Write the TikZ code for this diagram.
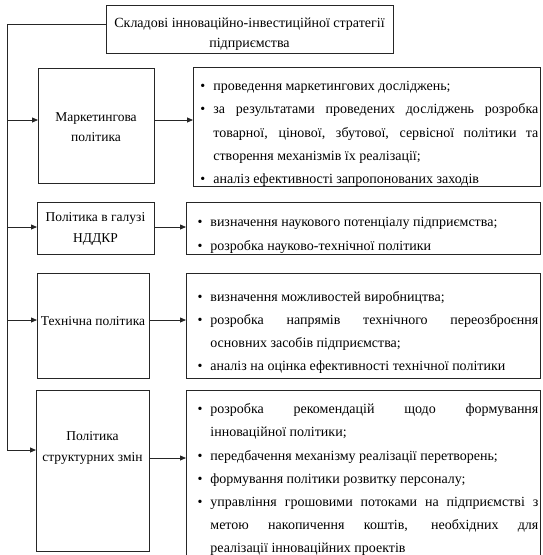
\documentclass[tikz,border=0pt]{standalone}
\usepackage{fontspec}
\setmainfont{Liberation Serif}
\usetikzlibrary{arrows.meta}
\tikzset{
  box/.style={draw=black!85, line width=0.8pt, anchor=north west, inner sep=0pt},
  ltext/.style={align=center, inner sep=0pt, font=\fontsize{13.5}{20.5}\selectfont},
  rbox/.style={box, align=justify, font=\fontsize{14}{23.2}\selectfont, inner xsep=2pt},
  arr/.style={line width=0.8pt, draw=black!85, -{Triangle[length=6pt,width=5pt]}},
  spine/.style={line width=1pt, draw=black!85}
}
\newcommand{\bitm}[1]{\par\noindent\llap{\textbullet\hspace{8pt}}#1}
\begin{document}
\begin{tikzpicture}[x=1pt,y=-1pt]
\useasboundingbox (0,0) rectangle (542,555);
% title
\node[box, minimum width=287pt, minimum height=48pt] (t) at (106,5) {};
\node[ltext, font=\fontsize{14}{20}\selectfont] (tt) at (249.5,34)
  {Складові інноваційно-інвестиційної стратегії\\підприємства};
% left boxes
\node[box, minimum width=116pt, minimum height=115pt] (m1) at (38,68) {};
\node[box, minimum width=117pt, minimum height=52pt] (m2) at (37,202) {};
\node[box, minimum width=112pt, minimum height=105pt] (m3) at (37,273) {};
\node[box, minimum width=113pt, minimum height=161pt] (m4) at (36,390) {};
\node[ltext] (m1t) at (96,127) {Маркетингова\\політика};
\node[ltext] (m2t) at (95.5,229) {Політика в галузі\\НДДКР};
\node[ltext] (m3t) at (93,321) {Технічна політика};
\node[ltext] (m4t) at (92.5,448) {Політика\\структурних змін};
% right boxes
\node[rbox, text width=343pt, minimum height=115pt] (r1) at (193,67) {\leftskip=18pt
  \bitm{проведення маркетингових досліджень;}
  \bitm{за результатами проведених досліджень розробка\linebreak товарної, цінової, збутової, сервісної політики та\linebreak створення механізмів їх реалізації;}
  \bitm{аналіз ефективності запропонованих заходів}\par};
\node[rbox, text width=350pt, minimum height=52pt] (r2) at (186,202) {\leftskip=22pt
  \bitm{визначення наукового потенціалу підприємства;}
  \bitm{розробка науково-технічної політики}\par};
\node[rbox, text width=350pt, minimum height=105pt] (r3) at (186,273) {\leftskip=22pt
  \bitm{визначення можливостей виробництва;}
  \bitm{розробка напрямів технічного переозброєння\linebreak основних засобів підприємства;}
  \bitm{аналіз на оцінка ефективності технічної політики}\par};
\node[rbox, text width=350pt, minimum height=162pt] (r4) at (186,390) {\leftskip=22pt
  \bitm{розробка рекомендацій щодо формування\linebreak інноваційної політики;}
  \bitm{передбачення механізму реалізації перетворень;}
  \bitm{формування політики розвитку персоналу;}
  \bitm{управління грошовими потоками на підприємстві з\linebreak метою накопичення коштів, необхідних для\linebreak реалізації інноваційних проектів}\par};
% connectors
\coordinate (s0) at (7,24);
\coordinate (y1) at (0,120);
\coordinate (y2) at (0,227);
\coordinate (y3) at (0,320);
\coordinate (y4) at (0,450);
\coordinate (y5) at (0,458);
\draw[spine] (t.west |- s0) -- (s0);
\draw[spine, -{Triangle[length=6pt,width=5pt]}] (s0) |- (m4.west |- y4);
\draw[arr] (s0 |- y1) -- (m1.west |- y1);
\draw[arr] (s0 |- y2) -- (m2.west |- y2);
\draw[arr] (s0 |- y3) -- (m3.west |- y3);
\draw[arr] (m1.east |- y1) -- (r1.west |- y1);
\draw[arr] (m2.east |- y2) -- (r2.west |- y2);
\draw[arr] (m3.east |- y3) -- (r3.west |- y3);
\draw[arr] (m4.east |- y5) -- (r4.west |- y5);
\end{tikzpicture}
\end{document}
